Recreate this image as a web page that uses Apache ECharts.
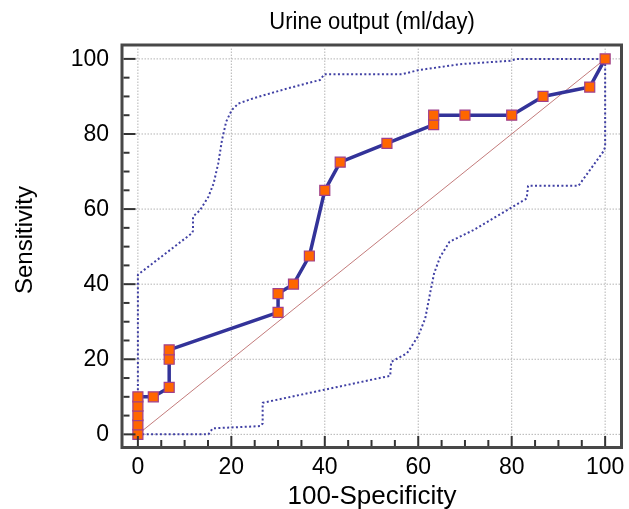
<!DOCTYPE html>
<html><head><meta charset="utf-8">
<script src="https://cdn.jsdelivr.net/npm/echarts@6/dist/echarts.min.js"></script>
<style>html,body{margin:0;padding:0;background:#fff}#c{width:629px;height:509px}</style>
</head><body><div id="c"></div>
<script>
// ROC curve points
const rocX = [0,0,0,0,0,3.3,6.7,6.7,6.7,30,30,33.3,36.7,40,43.3,53.3,63.3,63.3,70,80,86.7,96.7,100];
const rocY = [0,2.5,5,7.5,10,10,12.5,20,22.5,32.5,37.5,40,47.5,65,72.5,77.5,82.5,85,85,85,90,92.5,100];
// Upper confidence bound
const upX = [0,0,0.5,11.5,11.8,11.8,13.3,15.1,16.2,17.2,18,18.9,20.1,21.5,24.7,31.9,39,39.9,56.5,60,69,79.7,81.1,100];
const upY = [0,42.5,43,53.5,54.2,58,59.7,63.3,66.8,72.2,78.4,83.3,86.4,88.1,89.5,92.1,94.4,95.9,95.9,97,98.6,99.5,100,100];
// Lower confidence bound
const loX = [0,15.1,16,26.2,26.7,26.7,54,54.2,57.6,60,61.5,62.6,63.4,64.7,66.7,71.8,83.2,83.5,94.3,99.6,100,100];
const loY = [0,0,1.6,2.2,2.9,8.4,15.6,19.3,21.6,26.2,30.9,38,42.9,47.3,51.3,54.4,62.8,66.2,66.2,75.3,76.5,100];
// Reference diagonal
const diagX = [0,100];
const diagY = [0,100];
// Ticks and labels
const majorTicks = [0,20,40,60,80,100];
const minorTicks = [0,5,10,15,20,25,30,35,40,45,50,55,60,65,70,75,80,85,90,95,100];
const tickLabels = ['0','20','40','60','80','100'];
const titleText = 'Urine output (ml/day)';
const xName = '100-Specificity';
const yName = 'Sensitivity';

const X_MIN=-3.4, X_MAX=103.5, Y_MIN=-3.5, Y_MAX=103.7;
const FONT = "Liberation Sans, Arial, sans-serif";
const zip = (a,b)=>a.map((v,i)=>[v,b[i]]);

const chart = echarts.init(document.getElementById('c'), null, {renderer:'canvas'});
const majorSet = new Set(majorTicks);
const txt = (size)=>({fontSize:size, fontFamily:FONT, fill:'#000'});

const option = {
  animation:false,
  backgroundColor:'#fff',
  grid:{left:122, right:7.5, top:45, bottom:61.5, show:true, borderColor:'#484848', borderWidth:3, backgroundColor:'transparent', containLabel:false},
  xAxis:{type:'value', min:X_MIN, max:X_MAX, axisLine:{show:false}, axisTick:{show:false}, axisLabel:{show:false}, splitLine:{show:false}},
  yAxis:{type:'value', min:Y_MIN, max:Y_MAX, axisLine:{show:false}, axisTick:{show:false}, axisLabel:{show:false}, splitLine:{show:false}},
  graphic:[
    {type:'text', x:372, y:22, scaleY:1.1, style:Object.assign(txt(22),{text:titleText, textAlign:'center', textVerticalAlign:'middle'})},
    {type:'text', x:372, y:497, scaleY:1.0, style:Object.assign(txt(26),{text:xName, textAlign:'center', textVerticalAlign:'middle'})},
    {type:'text', x:25, y:240, rotation:Math.PI/2, style:Object.assign(txt(24),{text:yName, textAlign:'center', textVerticalAlign:'middle'})}
  ],
  series:[
    // vertical grid lines
    {type:'custom', z:1, silent:true, data:majorTicks, renderItem:(p,api)=>{
      const v=api.value(0); const a=api.coord([v,Y_MIN]); const b=api.coord([v,Y_MAX]);
      return {type:'line', shape:{x1:a[0],y1:a[1]-1.5,x2:b[0],y2:b[1]+1.5}, style:{stroke:'#b4b4b4', lineWidth:1, lineDash:[1.5,1.5]}};
    }},
    // horizontal grid lines
    {type:'custom', z:1, silent:true, data:majorTicks, renderItem:(p,api)=>{
      const v=api.value(0); const a=api.coord([X_MIN,v]); const b=api.coord([X_MAX,v]);
      return {type:'line', shape:{x1:a[0]+1.5,y1:a[1],x2:b[0]-1.5,y2:b[1]}, style:{stroke:'#b4b4b4', lineWidth:1, lineDash:[1.5,1.5]}};
    }},
    // x ticks
    {type:'custom', z:5, silent:true, data:minorTicks, renderItem:(p,api)=>{
      const v=api.value(0); const a=api.coord([v,Y_MIN]); const len=majorSet.has(v)?10:6;
      return {type:'line', shape:{x1:a[0],y1:a[1]-1.5,x2:a[0],y2:a[1]-1.5-len}, style:{stroke:'#333', lineWidth:2}};
    }},
    // y ticks
    {type:'custom', z:5, silent:true, data:minorTicks, renderItem:(p,api)=>{
      const v=api.value(0); const a=api.coord([X_MIN,v]); const len=majorSet.has(v)?12:6;
      return {type:'line', shape:{x1:a[0]+1.5,y1:a[1],x2:a[0]+1.5+len,y2:a[1]}, style:{stroke:'#333', lineWidth:2}};
    }},
    // x labels
    {type:'custom', z:5, silent:true, data:majorTicks.map((v,i)=>[v,i]), renderItem:(p,api)=>{
      const v=api.value(0); const a=api.coord([v,Y_MIN]);
      return {type:'text', x:a[0], y:a[1]+20, scaleY:1.05, style:Object.assign(txt(23),{text:tickLabels[api.value(1)], textAlign:'center', textVerticalAlign:'middle'})};
    }},
    // y labels
    {type:'custom', z:5, silent:true, data:majorTicks.map((v,i)=>[v,i]), renderItem:(p,api)=>{
      const v=api.value(0); const a=api.coord([X_MIN,v]);
      return {type:'text', x:a[0]-13, y:a[1], scaleY:1.05, style:Object.assign(txt(23),{text:tickLabels[api.value(1)], textAlign:'right', textVerticalAlign:'middle'})};
    }},
    // diagonal
    {type:'line', z:2, data:zip(diagX,diagY), symbol:'none', silent:true, lineStyle:{color:'#c47c7c', width:1}},
    // bands
    {type:'line', z:3, data:zip(upX,upY), symbol:'none', silent:true, lineStyle:{color:'#4040a4', width:2, type:[2,2.4]}},
    {type:'line', z:3, data:zip(loX,loY), symbol:'none', silent:true, lineStyle:{color:'#4040a4', width:2, type:[2,2.4]}},
    // ROC
    {type:'line', z:4, data:zip(rocX,rocY), symbol:'rect', symbolSize:10, silent:true,
      lineStyle:{color:'#333399', width:3.5},
      itemStyle:{color:'#ff6600', borderColor:'#a0408c', borderWidth:1.2}}
  ]
};
chart.setOption(option);
</script>
</body></html>
